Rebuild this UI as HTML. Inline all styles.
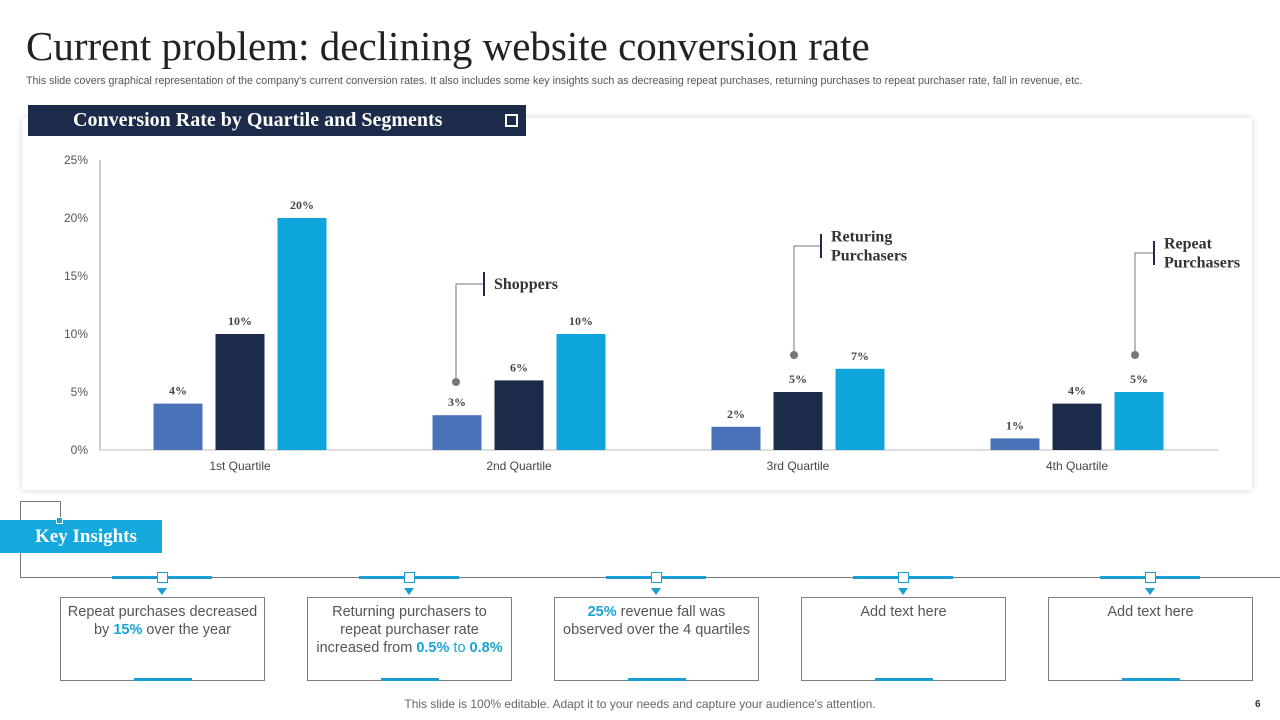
<!DOCTYPE html>
<html><head><meta charset="utf-8"><style>
body{margin:0;width:1280px;height:720px;background:#fff;position:relative;overflow:hidden;font-family:"Liberation Sans",sans-serif}
.abs{position:absolute}
.box{position:absolute;top:597px;width:205px;height:84px;border:1px solid #7f7f7f;box-sizing:border-box;text-align:center;font-size:14.5px;color:#555;line-height:18px;padding:5px 2px 0}
.box b{color:#1aa3d4}
.ul{position:absolute;bottom:-1px;left:73px;width:58px;height:3px;background:#1a9dd0}
.serif{font-family:"Liberation Serif",serif}
</style></head><body>
<div class="abs serif" style="left:26px;top:22px;font-size:41px;color:#222">Current problem: declining website conversion rate</div>
<div class="abs" style="left:26px;top:75px;font-size:10.7px;color:#555;white-space:nowrap">This slide covers graphical representation of the company's current conversion rates. It also includes some key insights such as decreasing repeat purchases, returning purchases to repeat purchaser rate, fall in revenue, etc.</div>
<div class="abs" style="left:22px;top:118px;width:1230px;height:372px;background:#fff;box-shadow:0 0 6px rgba(0,0,0,0.18)"></div>
<div class="abs serif" style="left:28px;top:105px;width:498px;height:31px;background:#1c2b4a;color:#fff;font-size:20px;font-weight:bold;line-height:31px;padding-left:45px;box-sizing:border-box;white-space:nowrap">Conversion Rate by Quartile and Segments<span style="position:absolute;left:477px;top:9px;width:9px;height:9px;border:2px solid #fff"></span></div>
<svg class="abs" style="left:0;top:0" width="1280" height="500" id="chart"></svg>
<div class="abs" style="left:20px;top:501px;width:39px;height:20px;border:1px solid #777;border-bottom:none"></div>
<div class="abs" style="left:20px;top:501px;width:1px;height:77px;background:#777"></div>
<div class="abs" style="left:20px;top:577px;width:1260px;height:1px;background:#777"></div>
<div class="abs serif" style="left:0;top:520px;width:162px;height:33px;background:#14a8dc;color:#fff;font-size:19px;font-weight:bold;line-height:33px;padding-left:35px;box-sizing:border-box">Key Insights</div>
<div class="abs" style="left:56px;top:517px;width:5px;height:5px;border:1px solid #fff;background:#14a8dc"></div>
<div id="ins"></div>
<div class="box" style="left:60px">Repeat purchases decreased by <b>15%</b> over the year<div class="ul"></div></div>
<div class="box" style="left:307px">Returning purchasers to<br>repeat purchaser rate<br>increased from <b>0.5%</b> <span style="color:#1aa3d4">to</span> <b>0.8%</b><div class="ul"></div></div>
<div class="box" style="left:554px"><b>25%</b> revenue fall was<br>observed over the 4 quartiles<div class="ul"></div></div>
<div class="box" style="left:801px">Add text here<div class="ul"></div></div>
<div class="box" style="left:1048px">Add text here<div class="ul"></div></div>
<div class="abs" style="left:0;width:1280px;top:697px;text-align:center;font-size:12px;color:#666">This slide is 100% editable. Adapt it to your needs and capture your audience's attention.</div>
<div class="abs" style="left:1255px;top:699px;font-size:10px;font-weight:bold;color:#333">6</div>
<script>
const categories=["1st Quartile","2nd Quartile","3rd Quartile","4th Quartile"];
const shoppers=[4,3,2,1];
const returning=[10,6,5,4];
const repeat=[20,10,7,5];
const yTicks=[0,5,10,15,20,25];
const NS="http://www.w3.org/2000/svg";
const svg=document.getElementById('chart');
const y=v=>450-v*(290/25);
const cx=i=>240+i*279;
function mk(t,a){const e=document.createElementNS(NS,t);for(const k in a)e.setAttribute(k,a[k]);svg.appendChild(e);return e;}
let ax=mk('line',{x1:100,y1:160,x2:100,y2:450,stroke:'#999'});


let bx=mk('line',{x1:100,y1:450,x2:1218,y2:450,stroke:'#bbb'});


yTicks.forEach(t=>{const e=mk('text',{x:88,y:y(t)+4,'text-anchor':'end','font-size':12,fill:'#555'});e.textContent=t+'%';

});
categories.forEach((c,i)=>{const e=mk('text',{x:cx(i),y:470,'text-anchor':'middle','font-size':12,fill:'#444'});e.textContent=c;

});
const series=[[shoppers,'#4a72b8',-62,'shoppers'],[returning,'#1c2b4a',0,'returning'],[repeat,'#0ea5dc',62,'repeat']];
series.forEach(([arr,col,off,nm])=>arr.forEach((v,i)=>{
 const r=mk('rect',{x:cx(i)+off-24.5,y:y(v),width:49,height:450-y(v),fill:col});
 
 
 const t=mk('text',{x:cx(i)+off,y:y(v)-9,'text-anchor':'middle','font-size':12,'font-weight':'bold',fill:'#444','font-family':'Liberation Serif,serif'});t.textContent=v+'%';
 
 
}));
function callout(px,py,tx,ty,lines,nm){
 const g=mk('path',{d:`M${px} ${py} V${ty} H${tx}`,fill:'none',stroke:'#777'});
 
 
 mk('circle',{cx:px,cy:py,r:4,fill:'#777'});
 mk('line',{x1:tx,y1:ty-12,x2:tx,y2:ty+12,stroke:'#1c2b4a','stroke-width':2});
 lines.forEach((l,k)=>{const t=mk('text',{x:tx+10,y:ty+5+(k-(lines.length-1)/2)*19,'font-size':16,'font-weight':'bold',fill:'#333','font-family':'Liberation Serif,serif'});t.textContent=l;
 
 });
}
callout(456,382,484,284,['Shoppers'],'shoppers');
callout(794,355,821,246,['Returing','Purchasers'],'returning');
callout(1135,355,1154,253,['Repeat','Purchasers'],'repeat');
const ins=document.getElementById('ins');
[162,409,656,903,1150].forEach((c,i)=>{
 ins.insertAdjacentHTML('beforeend',`<div class="abs" style="left:${c-50}px;top:576px;width:100px;height:3px;background:#1a9dd0"></div><div class="abs" style="left:${c-5}px;top:572px;width:9px;height:9px;border:1px solid #1a9dd0;background:#fff"></div><div class="abs" style="left:${c-5}px;top:588px;width:0;height:0;border-left:5px solid transparent;border-right:5px solid transparent;border-top:7px solid #1a9dd0"></div>`);
});
</script>
</body></html>
